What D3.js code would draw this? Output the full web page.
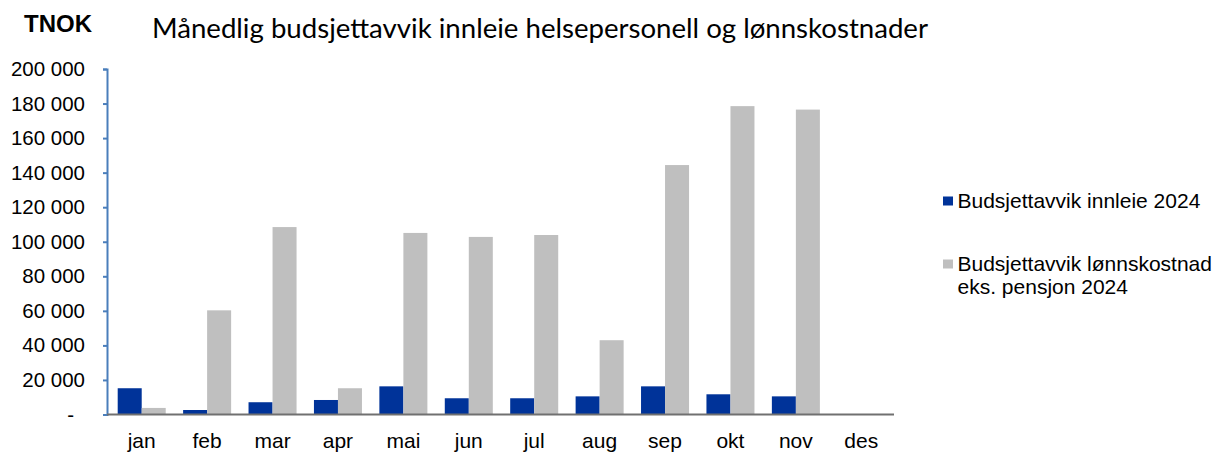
<!DOCTYPE html>
<html>
<head>
<meta charset="utf-8">
<script src="https://cdnjs.cloudflare.com/ajax/libs/d3/7.8.5/d3.min.js"></script>
<style>
  body { margin: 0; background: #fff; }
  text { font-family: "Liberation Sans", Arial, sans-serif; fill: #000; }
</style>
</head>
<body>
<div id="container"></div>
<script>
var months = ["jan", "feb", "mar", "apr", "mai", "jun", "jul", "aug", "sep", "okt", "nov", "des"];

var innleie = [15200, 2600, 7100, 8400, 16300, 9400, 9400, 10500, 16300, 11700, 10500, null];

var lonn = [3800, 60300, 108500, 15200, 105100, 102800, 103900, 43000, 144400, 178500, 176500, null];

var series = ["Budsjettavvik innleie 2024", "Budsjettavvik lønnskostnad eks. pensjon 2024"];

var yTicks = [0, 20000, 40000, 60000, 80000, 100000, 120000, 140000, 160000, 180000, 200000];

var color = ["#003399", "#bfbfbf"];

var svg_width = 1220,
    svg_height = 452;

var svg = d3.select("#container").append("svg")
    .attr("width", svg_width)
    .attr("height", svg_height)

// scales
var x = d3.scaleBand()
    .domain(months)
    .range([109, 894])
    .paddingInner(0.266)
    .paddingOuter(0.133)

var x1 = d3.scaleBand()
    .domain([0, 1])
    .range([0, x.bandwidth()])

var y = d3.scaleLinear()
    .domain([0, 200000])
    .range([414.5, 69])

var fmt = function(d) {
    if (d === 0) return "-";
    return d3.format(",")(d).replace(/,/g, " ");
}

// y axis
var yAxis = svg.append("g")
    .attr("transform", "translate(107,0)")
    .call(d3.axisLeft(y).tickValues(yTicks).tickSize(4).tickPadding(18).tickFormat(fmt))

yAxis.select(".domain").attr("stroke", "#4a7ebb").attr("stroke-width", 2)
yAxis.selectAll(".tick line").attr("stroke", "#4a7ebb").attr("stroke-width", 2)
yAxis.selectAll(".tick text")
    .style("font-size", "20.5px")
    .attr("fill", "#000")
    .attr("x", function(d) { return d === 0 ? -33 : -22 })

// bars
var data = months.map(function(m, i) { return { month: m, vals: [innleie[i], lonn[i]] } });

var groups = svg.selectAll(".month")
    .data(data)
    .enter().append("g")
    .attr("class", "month")
    .attr("transform", function(d) { return "translate(" + x(d.month) + ",0)" })

groups.selectAll("rect")
    .data(function(d) { return d.vals.map(function(v, j) { return { v: v, j: j } }).filter(function(e) { return e.v != null }) })
    .enter().append("rect")
    .attr("x", function(d) { return x1(d.j) })
    .attr("width", x1.bandwidth())
    .attr("y", function(d) { return y(d.v) })
    .attr("height", function(d) { return y(0) - y(d.v) })
    .style("fill", function(d) { return color[d.j] })

// x axis line
svg.append("line")
    .attr("x1", 107)
    .attr("x2", 894)
    .attr("y1", y(0))
    .attr("y2", y(0))
    .attr("stroke", "#707070")
    .attr("stroke-width", 2)

svg.selectAll(".mlabel")
    .data(months)
    .enter().append("text")
    .attr("class", "mlabel")
    .attr("x", function(d) { return x(d) + x.bandwidth() / 2 })
    .attr("y", 448)
    .attr("text-anchor", "middle")
    .style("font-size", "21px")
    .text(function(d) { return d })

// titles
svg.append("text")
    .attr("x", 24)
    .attr("y", 32)
    .style("font-size", "24px")
    .style("font-weight", "bold")
    .text("TNOK")

svg.append("text")
    .attr("x", 152)
    .attr("y", 38)
    .attr("textLength", 776)
    .attr("lengthAdjust", "spacingAndGlyphs")
    .style("font-family", "Lato, 'Open Sans', sans-serif")
    .style("font-size", "27px")
    .text("Månedlig budsjettavvik innleie helsepersonell og lønnskostnader")

// legend
var legend = svg.append("g")

legend.append("rect")
    .attr("x", 943).attr("y", 196.5)
    .attr("width", 10).attr("height", 9)
    .style("fill", color[0])

legend.append("text")
    .attr("x", 957.5).attr("y", 207.5)
    .style("font-size", "21px")
    .text(series[0])

legend.append("rect")
    .attr("x", 943).attr("y", 259.5)
    .attr("width", 10).attr("height", 9)
    .style("fill", color[1])

legend.append("text")
    .attr("x", 957.5).attr("y", 271)
    .style("font-size", "21px")
    .text("Budsjettavvik lønnskostnad")

legend.append("text")
    .attr("x", 957.5).attr("y", 293.5)
    .style("font-size", "21px")
    .text("eks. pensjon 2024")
</script>
</body>
</html>
